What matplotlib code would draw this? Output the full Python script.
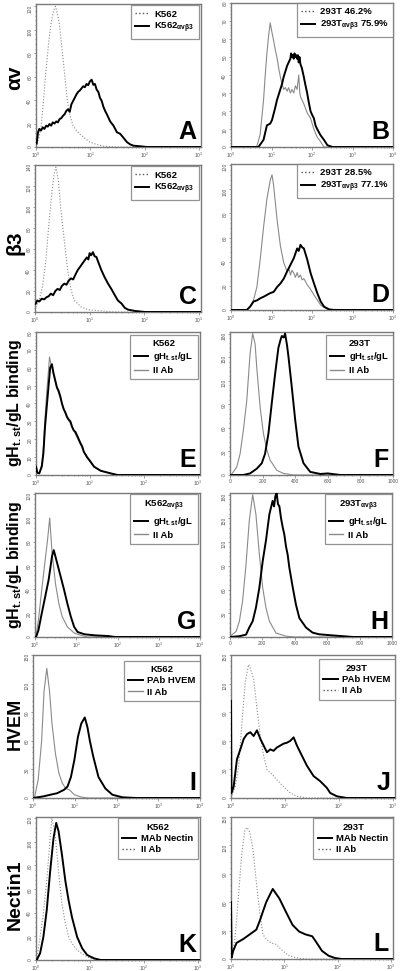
import matplotlib
matplotlib.use("Agg")
import matplotlib.pyplot as plt
from matplotlib.lines import Line2D
from matplotlib.ticker import AutoMinorLocator, LogLocator, NullFormatter, MultipleLocator

plt.rcParams.update({
    "font.family": ["Liberation Sans", "DejaVu Sans"],
    "mathtext.fontset": "custom",
    "mathtext.rm": "Liberation Sans:bold",
    "mathtext.it": "Liberation Sans:bold",
    "mathtext.bf": "Liberation Sans:bold",
    "mathtext.default": "bf",
})

GREY = "#8a8a8a"
SPINE = "#7a7a7a"

# ---- data (fluorescence, counts) ----
A_k562_x = [1.03, 1.12, 1.24, 1.37, 1.54, 1.72, 1.90, 2.10, 2.29, 2.50, 2.72, 2.92, 3.14, 3.37,
            3.62, 3.89, 4.18, 4.82, 5.56, 6.4, 7.95, 9.86, 13.1, 17.5, 31, 63, 1100]
A_k562_y = [2.8, 7, 17, 39, 67, 90, 106, 116, 120, 113, 104, 90, 76, 62,
            48, 36, 28, 18, 14, 11, 7.5, 4.2, 2.2, 0.8, 0, 0, 0]
A_avb3_x = [1.03, 1.09, 1.15, 1.24, 1.33, 1.43, 1.54, 1.65, 1.77, 1.90, 2.04, 2.20, 2.36, 2.53,
            2.72, 2.92, 3.14, 3.37, 3.62, 3.89, 4.18, 4.49, 4.82, 5.18, 5.56, 5.97, 6.41, 6.88,
            7.39, 7.95, 8.54, 9.17, 9.86, 10.6, 11.4, 12.2, 13.1, 14.1, 15.1, 16.3, 17.5, 18.8,
            20.2, 23.3, 26.8, 31.0, 35.7, 41.1, 47.4, 54.6, 63, 84, 111, 1100]
A_avb3_y = [3, 12.6, 15.4, 14, 16.8, 15.4, 18.2, 17.4, 19.6, 18.2, 21, 20, 21.8, 21,
            23.8, 24.6, 26.6, 28, 30.8, 32.2, 30, 36.4, 39.2, 42, 44.8, 47, 48.2, 49.9,
            51.8, 51, 53.8, 52.7, 56, 57.4, 53, 53.8, 49, 47, 42, 39.2, 34.2, 30.8,
            28, 21.8, 18.2, 12.6, 11.2, 7.8, 4.2, 2.2, 1.1, 0.6, 0, 0]

B_293_x = [1, 4.3, 5.25, 6.36, 7.0, 7.69, 8.5, 9.3, 10.2, 11.3, 12.4, 13.6, 15, 16.5, 18.2, 20,
           22, 24.2, 26.5, 29.2, 32, 35.4, 39, 42.8, 47.1, 50, 51.8, 62.7, 75.9, 91.8, 111,
           134, 163, 197, 10000]
B_293_y = [0, 0, 7, 26, 40, 52, 62, 69, 64, 59, 54, 50, 44, 39, 35, 32,
           33, 31, 33, 30, 32, 30, 34, 32, 40, 30, 28, 24, 19, 16, 10,
           5.5, 3, 0, 0]
B_avb3_x = [1, 4.78, 5.5, 6.36, 7.69, 9.3, 10.3, 11.3, 12.4, 13.6, 15, 16.5, 18.2, 20, 22, 24.2,
            26.5, 29.2, 30.5, 32, 33.5, 35.4, 37, 39, 41, 42.8, 45, 47, 49, 51.8, 56, 62.7, 68,
            75.9, 83, 91.8, 100, 111, 122, 134, 163, 197, 240, 320, 10000]
B_avb3_y = [0, 0, 2, 4, 12, 13, 15, 18.5, 22, 26, 29, 32, 35, 39, 42, 45,
            47, 49, 52, 50, 51, 49, 52, 50, 51, 49, 51, 47, 50, 46, 44, 39, 35,
            30, 25, 20, 18, 16, 12, 10, 6.5, 4, 1, 0, 0]

C_k562_x = [1.03, 1.19, 1.37, 1.58, 1.82, 2.09, 2.25, 2.41, 2.67, 2.99, 3.44, 3.97, 4.58,
            5.27, 7.0, 9.3, 16.4, 29, 1100]
C_k562_y = [4.8, 11, 24, 49, 87.5, 119, 132, 138, 126, 97, 68, 40, 21,
            11, 4.8, 2.2, 1, 0, 0]
C_avb3_x = [1.03, 1.1, 1.2, 1.33, 1.47, 1.62, 1.78, 1.95, 2.15, 2.36, 2.59, 2.85, 3.13, 3.44,
            3.78, 4.15, 4.58, 5.0, 5.55, 6.08, 6.7, 7.35, 8.08, 8.9, 9.5, 10.0, 10.7, 11.5,
            12.4, 13.3, 14.8, 16.4, 18.9, 21.8, 25, 29, 33, 38.6, 44, 51, 68, 104, 1100]
C_avb3_y = [8, 11, 10, 12.7, 12, 14, 15, 17.5, 16, 20, 22, 21, 25, 27,
            26, 30, 32, 31, 36, 40, 43, 46, 49, 52, 50, 56, 54, 57,
            53, 52.5, 46, 40, 33, 27, 22, 16, 11, 8, 4, 2.2, 1, 0, 0]

D_293_x = [1, 2.45, 2.97, 3.6, 4.35, 5.27, 6.38, 7.7, 9.35, 10.3, 11.3, 13.7, 16.6, 20.1, 24.3,
           27, 29.4, 32, 35.6, 39, 43, 47, 52, 57, 63, 76, 92.5, 112, 135, 164, 240, 10000]
D_293_y = [0, 0, 2.8, 8.3, 19, 42, 69, 92, 108, 112, 103, 75, 53, 39, 32,
           34, 29, 33, 30.5, 27, 31, 27, 29, 25, 26, 21, 17, 12.5, 8.3, 4, 0.5, 0]
D_avb3_x = [1, 2.45, 2.97, 3.6, 4.4, 5.27, 6.4, 7.7, 9.3, 11.3, 13.7, 16.6, 20.1, 24.3, 29.4,
            35.6, 43, 47, 52, 57, 63, 76, 92.5, 112, 135, 164, 198, 265, 350, 10000]
D_avb3_y = [0, 0, 2.8, 7, 8, 9.7, 11, 12.5, 14, 15, 19, 22, 26, 32, 37.5,
            43, 51, 49, 54, 52, 51, 42, 30.5, 22, 14, 7, 2.8, 0.5, 0, 0]

E_gh_x = [1.0, 1.06, 1.15, 1.28, 1.37, 1.47, 1.58, 1.70, 1.83, 1.97, 2.11, 2.27, 2.44, 2.63,
          2.82, 3.03, 3.25, 3.5, 3.76, 4.04, 4.34, 4.66, 5.0, 5.4, 5.8, 6.2, 6.7, 7.2, 7.7,
          8.9, 10.3, 11.9, 15.8, 24.4, 32.5, 1100]
E_gh_y = [4.7, 1.3, 0.9, 4.7, 12, 27, 38, 49, 60, 62, 57, 53, 49, 47,
          44, 40, 37, 35, 32.5, 31, 30, 27, 25, 24, 22, 20, 17.7, 16, 13,
          9.9, 7.4, 4.7, 2.4, 0.9, 0, 0]
E_ii_x = [1.0, 1.06, 1.15, 1.28, 1.37, 1.47, 1.58, 1.70, 1.78, 1.90, 2.04, 2.2, 2.44, 2.82,
          3.25, 3.76, 4.34, 5.0, 5.8, 6.7, 7.7, 8.9, 10.3, 11.9, 15.8, 24.4, 32.5, 1100]
E_ii_y = [3, 1, 1, 6, 15, 32, 46, 58, 66, 62, 58, 54, 49, 43,
          37, 32, 29, 25, 21, 17, 13, 9.5, 7, 4.5, 2.2, 0.8, 0, 0]

F_gh_x = [0, 82, 123, 164, 195, 215, 236, 256, 277, 297, 310, 318, 330, 338, 350, 359, 379,
          400, 420, 451, 492, 554, 600, 677, 1000]
F_gh_y = [0, 0, 2, 8, 15, 27, 53, 91, 129, 162, 172, 177, 175, 180, 165, 150, 112,
          70, 36, 15, 4, 1.3, 2, 0, 0]
F_ii_x = [0, 10, 41, 62, 82, 103, 123, 139, 154, 164, 185, 205, 226, 246, 287, 328, 390, 1000]
F_ii_y = [0, 1, 10, 27, 57, 95, 154, 180, 167, 137, 86, 53, 32, 19, 6, 2, 0, 0]

G_gh_x = [1.0, 1.06, 1.21, 1.46, 1.77, 2.14, 2.59, 2.85, 3.45, 4.17, 5.04, 6.1, 7.4, 8.9,
          10.8, 15.8, 28, 60, 87, 10000]
G_gh_y = [0, 0, 5.6, 20, 34, 48, 68, 73, 62, 51, 40, 28, 17, 8.5,
          4.2, 2.3, 1.4, 0.8, 0, 0]
G_ii_x = [1.0, 1.06, 1.21, 1.46, 1.77, 2.02, 2.27, 2.59, 3.13, 3.79, 4.58, 6.1, 8.9, 13, 19, 10000]
G_ii_y = [0, 1.4, 14, 40, 65, 82, 100, 71, 45, 28, 17, 8.5, 3.4, 1.4, 0, 0]

H_gh_x = [0, 58, 99, 119, 140, 160, 181, 202, 222, 243, 263, 272, 280, 288, 296, 305, 315,
          325, 335, 346, 356, 366, 387, 407, 428, 469, 510, 551, 634, 700, 760, 1000]
H_gh_y = [0, 1, 3, 12, 20, 37, 62, 96, 122, 155, 172, 165, 178, 182, 168, 165, 150,
          139, 130, 114, 104, 88, 63, 41, 24, 12, 5.5, 3.4, 2, 1, 0, 0]
H_ii_x = [0, 38, 58, 78, 99, 119, 140, 160, 181, 202, 222, 243, 284, 346, 400, 1000]
H_ii_y = [1, 7, 20, 46, 92, 147, 180, 155, 105, 62, 37, 20, 5, 1, 0, 0]

I_hvem_x = [1.0, 1.77, 2.59, 3.79, 5.54, 6.7, 8.1, 9.8, 11.9, 14.3, 17.4, 20.2, 23, 27.9,
            37, 54, 80, 140, 300, 10000]
I_hvem_y = [0, 1.7, 3.4, 5, 8.6, 12, 22, 40, 64, 78, 84.5, 74, 60, 43,
            22, 10, 3.4, 0.7, 0, 0]
I_ii_x = [1.0, 1.1, 1.33, 1.61, 1.84, 2.14, 2.49, 2.85, 3.45, 4.17, 5.04, 6.1, 7.4, 8.1, 9.8,
          14.3, 21, 10000]
I_ii_y = [0, 1.7, 19, 60, 112, 136, 112, 78, 46.5, 26, 15.5, 10, 8.6, 7, 3.4,
          1, 0, 0]

J_hvem_x = [1.0, 1.02, 1.12, 1.29, 1.49, 1.72, 1.98, 2.28, 2.63, 3.03, 3.5, 4.03, 4.64, 5.35,
            6.16, 7.1, 8.2, 9.4, 10.9, 12.6, 14.5, 16.7, 19.2, 25.5, 34, 45, 60, 69, 92, 140,
            1100]
J_hvem_y = [102, 5, 12, 40.6, 51, 62, 67, 69, 65, 71, 62, 55, 48, 51,
            49.5, 53, 55, 57, 58, 60, 63.6, 55, 48, 34, 23, 17.7, 10.6, 5.3, 1.8, 0,
            0]
J_ii_x = [1.0, 1.2, 1.39, 1.6, 1.84, 2.12, 2.28, 2.63, 3.03, 3.5, 4.03, 4.64, 5.74, 7.1, 9.4,
          12.6, 16.7, 25.5, 1100]
J_ii_y = [0, 12, 34, 80, 122, 140, 136, 125, 94, 65, 44, 30, 25, 19, 12,
          5.3, 1.8, 0, 0]

K_mab_x = [1.03, 1.19, 1.37, 1.58, 1.83, 2.11, 2.37, 2.62, 3.03, 3.5, 4.04, 4.66, 5.79, 7.2,
           8.9, 11.9, 15.8, 1100]
K_mab_y = [0, 5.6, 19.5, 42, 75, 103, 116, 109, 89, 67, 50, 36, 19.5, 9.8,
           4.2, 1.4, 0, 0]
K_ii_x = [1.03, 1.19, 1.37, 1.58, 1.83, 1.97, 2.27, 2.62, 3.03, 3.5, 4.04, 4.66, 5.79, 7.7,
          10.3, 13.7, 1100]
K_ii_y = [0, 19.5, 39, 67, 103, 120, 106, 75, 47.5, 31, 19.5, 14, 8.4, 4.2,
          1.4, 0, 0]

L_mab_x = [1.0, 1.03, 1.1, 1.27, 1.69, 2.25, 2.99, 3.45, 3.97, 4.58, 5.27, 6.08, 7.0, 8.08,
           9.3, 10.7, 14.3, 19, 25, 33.5, 38.6, 51, 68, 90, 120, 1100]
L_mab_y = [60, 1.7, 8.6, 17, 21, 26, 31, 40, 50, 60, 67, 74, 69, 64,
           57, 50, 36, 29, 26, 24, 19, 8.6, 3.4, 1, 0, 0]
L_ii_x = [1.03, 1.19, 1.37, 1.58, 1.82, 2.0, 2.25, 2.59, 2.99, 3.45, 3.97, 4.58, 5.66, 7.0,
          9.3, 12.4, 19, 29, 1100]
L_ii_y = [1.7, 22, 64, 109, 136, 139, 134, 115, 81, 50, 26, 21, 17, 15.5,
          8.6, 3.4, 0.7, 0, 0]

ROW_LABELS = ["αv", "β3", "gH$_{t.st}$/gL binding", "gH$_{t.st}$/gL binding", "HVEM", "Nectin1"]

W, H = 400, 971
fig = plt.figure(figsize=(W / 100, H / 100), dpi=100)


def make_ax(l, t, r, b):
    return fig.add_axes([l / W, 1 - b / H, (r - l) / W, (b - t) / H])


def style(ax, kind, xmax, ymax, ystep):
    for s in ax.spines.values():
        s.set_color(SPINE)
        s.set_linewidth(1.0)
    if kind == "log":
        ax.set_xscale("log")
        ax.set_xlim(1, xmax)
        ax.xaxis.set_major_locator(LogLocator(base=10, numticks=6))
        ax.xaxis.set_minor_locator(LogLocator(base=10, subs=range(2, 10), numticks=6))
        ax.xaxis.set_minor_formatter(NullFormatter())
    else:
        ax.set_xlim(0, xmax)
        ax.xaxis.set_major_locator(MultipleLocator(200))
        ax.xaxis.set_minor_locator(AutoMinorLocator(4))
    ax.set_ylim(0, ymax)
    ax.yaxis.set_major_locator(MultipleLocator(ystep))
    ax.yaxis.set_minor_locator(AutoMinorLocator(5))
    ax.tick_params(which="both", colors=SPINE, labelcolor="#555555", labelsize=3.5,
                   width=0.5, pad=0.8)
    ax.tick_params(which="major", length=1.8)
    ax.tick_params(which="minor", length=1)
    ax.tick_params(axis="y", labelrotation=90)


def legend(ax, entries, title=None, anchor=(1.0, 1.0)):
    handles = [Line2D([], [], color=c, lw=lw, ls=ls) for _, c, lw, ls in entries]
    labels = [e[0] for e in entries]
    leg = ax.legend(handles, labels, loc="upper right", bbox_to_anchor=anchor, title=title,
                    fontsize=6.8, frameon=True, fancybox=False, edgecolor=SPINE,
                    handlelength=1.5, handletextpad=0.5, borderpad=0.45, labelspacing=0.25,
                    borderaxespad=0.0)
    leg.get_frame().set_linewidth(0.9)
    for t in leg.get_texts():
        t.set_fontweight("bold")
    if title:
        leg.get_title().set_fontweight("bold")
        leg.get_title().set_fontsize(6.8)
    return leg


def letter(ax, s):
    ax.text(0.975, 0.02, s, transform=ax.transAxes, ha="right", va="bottom",
            fontsize=18, fontweight="bold")


thick = dict(color="black", lw=1.4, zorder=3)
thin = dict(color=GREY, lw=0.8, zorder=2.6)
solid_leg_thick = ("black", 1.4, "-")
dot_leg = ("#555555", 1.0, ":")
grey_leg = (GREY, 1.0, "-")

# Row 1
ax = make_ax(36, 4, 201, 147)
ax.plot(A_k562_x, A_k562_y, ls=":", **thin)
ax.plot(A_avb3_x, A_avb3_y, **thick)
style(ax, "log", 1100, 122, 20)
legend(ax, [("K562", *dot_leg), ("K562$_{αvβ3}$", *solid_leg_thick)], anchor=(0.985, 0.99))
letter(ax, "A")

ax = make_ax(231, 3, 393, 147)
ax.plot(B_293_x, B_293_y, **thin)
ax.plot(B_avb3_x, B_avb3_y, **thick)
style(ax, "log", 10000, 80, 10)
legend(ax, [("293T 46.2%", *dot_leg), ("293T$_{αvβ3}$ 75.9%", *solid_leg_thick)])
letter(ax, "B")

# Row 2
ax = make_ax(35, 165, 201, 312)
ax.plot(C_k562_x, C_k562_y, ls=":", **thin)
ax.plot(C_avb3_x, C_avb3_y, **thick)
style(ax, "log", 1100, 140, 20)
legend(ax, [("K562", *dot_leg), ("K562$_{αvβ3}$", *solid_leg_thick)], anchor=(0.985, 0.99))
letter(ax, "C")

ax = make_ax(231, 164, 393, 310)
ax.plot(D_293_x, D_293_y, **thin)
ax.plot(D_avb3_x, D_avb3_y, **thick)
style(ax, "log", 10000, 121, 20)
legend(ax, [("293T 28.5%", *dot_leg), ("293T$_{αvβ3}$ 77.1%", *solid_leg_thick)])
letter(ax, "D")

# Row 3
ax = make_ax(36, 332, 200, 475)
ax.plot(E_ii_x, E_ii_y, **thin)
ax.plot(E_gh_x, E_gh_y, **thick)
style(ax, "log", 1100, 80, 10)
legend(ax, [("gH$_{t.st}$/gL", *solid_leg_thick), ("II Ab", *grey_leg)], title="K562",
       anchor=(0.985, 0.98))
letter(ax, "E")

ax = make_ax(230, 332, 393, 475)
ax.plot(F_ii_x, F_ii_y, **thin)
ax.plot(F_gh_x, F_gh_y, **thick)
style(ax, "lin", 1000, 182, 30)
legend(ax, [("gH$_{t.st}$/gL", *solid_leg_thick), ("II Ab", *grey_leg)], title="293T",
       anchor=(1.0, 0.98))
letter(ax, "F")

# Row 4
ax = make_ax(35, 493, 200, 637)
ax.plot(G_ii_x, G_ii_y, **thin)
ax.plot(G_gh_x, G_gh_y, **thick)
style(ax, "log", 10000, 121, 20)
legend(ax, [("gH$_{t.st}$/gL", *solid_leg_thick), ("II Ab", *grey_leg)],
       title="K562$_{αvβ3}$", anchor=(0.985, 0.99))
letter(ax, "G")

ax = make_ax(230, 493, 392, 637)
ax.plot(H_ii_x, H_ii_y, **thin)
ax.plot(H_gh_x, H_gh_y, **thick)
style(ax, "lin", 1000, 182, 30)
legend(ax, [("gH$_{t.st}$/gL", *solid_leg_thick), ("II Ab", *grey_leg)],
       title="293T$_{αvβ3}$", anchor=(1.0, 0.99))
letter(ax, "H")

# Row 5
ax = make_ax(33, 655, 200, 798)
ax.plot(I_ii_x, I_ii_y, **thin)
ax.plot(I_hvem_x, I_hvem_y, **thick)
style(ax, "log", 10000, 150, 30)
legend(ax, [("PAb HVEM", *solid_leg_thick), ("II Ab", *grey_leg)], title="K562",
       anchor=(1.0, 0.96))
letter(ax, "I")

ax = make_ax(231, 655, 395, 798)
ax.plot(J_ii_x, J_ii_y, ls=":", **thin)
ax.plot(J_hvem_x, J_hvem_y, **thick)
style(ax, "log", 1100, 150, 30)
legend(ax, [("PAb HVEM", *solid_leg_thick), ("II Ab", *dot_leg)], title="293T",
       anchor=(1.0, 0.97))
letter(ax, "J")

# Row 6
ax = make_ax(36, 817, 200, 960)
ax.plot(K_ii_x, K_ii_y, ls=":", **thin)
ax.plot(K_mab_x, K_mab_y, **thick)
style(ax, "log", 1100, 121, 20)
legend(ax, [("MAb Nectin", *solid_leg_thick), ("II Ab", *dot_leg)], title="K562",
       anchor=(0.985, 0.99))
letter(ax, "K")

ax = make_ax(231, 817, 393, 959)
ax.plot(L_ii_x, L_ii_y, ls=":", **thin)
ax.plot(L_mab_x, L_mab_y, **thick)
style(ax, "log", 1100, 150, 30)
legend(ax, [("MAb Nectin", *solid_leg_thick), ("II Ab", *dot_leg)], title="293T",
       anchor=(1.0, 0.99))
letter(ax, "L")

# Row labels on the left
row_y = [78, 243, 403, 565, 724, 895]
row_size = [15, 15, 11.5, 11.5, 13, 14]
for lab, yy, fs in zip(ROW_LABELS, row_y, row_size):
    fig.text(15 / W, 1 - yy / H, lab, rotation=90, ha="center", va="center",
             fontsize=fs, fontweight="bold")

fig.savefig("out.png", dpi=100)
